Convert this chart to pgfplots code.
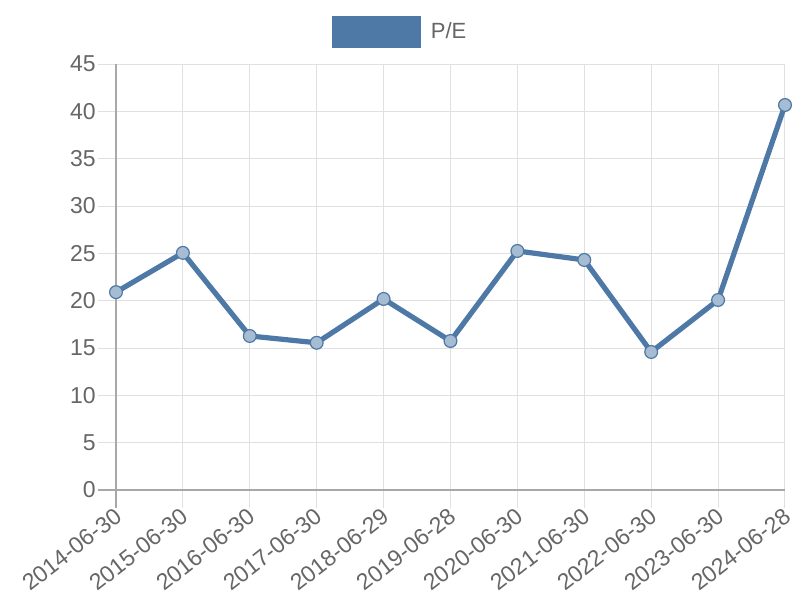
\documentclass[border=0pt]{standalone}
\usepackage{fontspec}
\setmainfont{Liberation Sans}
\usepackage{pgfplots}
\pgfplotsset{compat=1.18}
\definecolor{pecolor}{HTML}{4E79A7}
\definecolor{txtgray}{HTML}{666666}
\definecolor{gridgray}{HTML}{E0E0E0}
\definecolor{axisgray}{HTML}{A8A8A8}
\begin{document}
\begin{tikzpicture}
\path[use as bounding box] (-58pt,-55pt) rectangle (342pt,245pt);
\begin{axis}[
    at={(0pt,0pt)}, anchor=south west,
    scale only axis,
    width=334.5pt, height=213pt,
    xmin=0, xmax=10, ymin=0, ymax=45,
    xtick={0,...,10},
    xticklabels={2014-06-30,2015-06-30,2016-06-30,2017-06-30,2018-06-29,2019-06-28,2020-06-30,2021-06-30,2022-06-30,2023-06-30,2024-06-28},
    ytick={0,5,...,45},
    axis x line*=bottom, axis y line*=left,
    axis line style={axisgray, line width=0.6pt, -},
    x axis line style={shorten <=-9pt},
    y axis line style={shorten <=-9pt},
    grid=major,
    major grid style={gridgray, line width=0.5pt},
    tick align=outside, major tick length=9pt,
    tick style={gridgray, line width=0.5pt},
    ticklabel style={font=\fontsize{11.5}{13}\selectfont, text=txtgray},
    /pgf/number format/assume math mode=true,
    xticklabel style={rotate=38, anchor=north east, inner sep=0.5pt, yshift=2pt},
    yticklabel style={inner sep=1pt},
    legend style={at={(rel axis cs:0.426,1.075)}, anchor=center, draw=none, fill=none,
        font=\fontsize{11}{12}\selectfont, text=txtgray, inner sep=0pt,
        /tikz/every odd column/.append style={column sep=3pt}},
    legend image code/.code={\fill[pecolor] (0pt,-6.5pt) rectangle (42pt,6.5pt);},
    clip=false,
]
\addplot[pecolor, line width=2.6pt, mark=*, mark size=3.2pt,
    mark options={line width=0.6pt, draw=pecolor, fill=pecolor!50!white}]
    coordinates {(0,20.9) (1,25.05) (2,16.27) (3,15.55) (4,20.18) (5,15.74) (6,25.25) (7,24.3) (8,14.58) (9,20.07) (10,40.67)};
\addlegendentry{P/E}
\end{axis}
\end{tikzpicture}
\end{document}
